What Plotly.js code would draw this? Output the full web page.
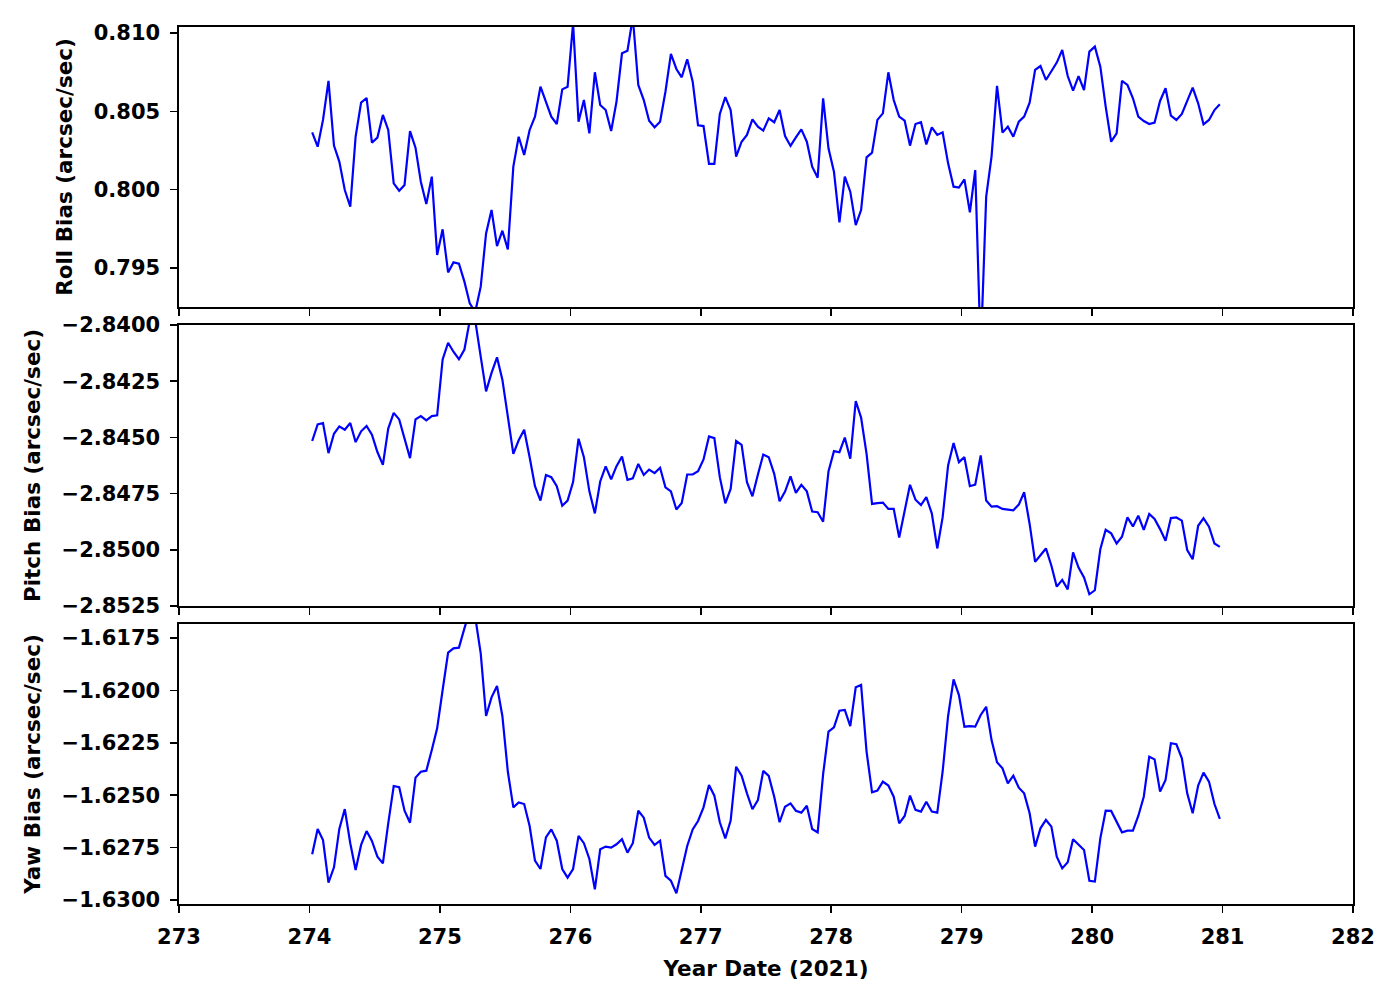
<!DOCTYPE html>
<html>
<head>
<meta charset="utf-8">
<script src="https://cdn.plot.ly/plotly-3.0.1.min.js"></script>
<style>html,body{margin:0;padding:0;background:#fff;}#chart{width:1400px;height:1000px;}</style>
</head>
<body>
<div id="chart"></div>
<script>
// Year date (2021), hourly samples
const yearDate = [
274.021,274.063,274.104,274.146,274.188,274.229,274.271,274.313,274.354,274.396,274.438,274.479,274.521,274.563,274.604,274.646,274.688,274.729,274.771,274.813,274.854,274.896,274.938,274.979,
275.021,275.063,275.104,275.146,275.188,275.229,275.271,275.313,275.354,275.396,275.438,275.479,275.521,275.563,275.604,275.646,275.688,275.729,275.771,275.813,275.854,275.896,275.938,275.979,
276.021,276.063,276.104,276.146,276.188,276.229,276.271,276.313,276.354,276.396,276.438,276.479,276.521,276.563,276.604,276.646,276.688,276.729,276.771,276.813,276.854,276.896,276.938,276.979,
277.021,277.063,277.104,277.146,277.188,277.229,277.271,277.313,277.354,277.396,277.438,277.479,277.521,277.563,277.604,277.646,277.688,277.729,277.771,277.813,277.854,277.896,277.938,277.979,
278.021,278.063,278.104,278.146,278.188,278.229,278.271,278.313,278.354,278.396,278.438,278.479,278.521,278.563,278.604,278.646,278.688,278.729,278.771,278.813,278.854,278.896,278.938,278.979,
279.021,279.063,279.104,279.146,279.188,279.229,279.271,279.313,279.354,279.396,279.438,279.479,279.521,279.563,279.604,279.646,279.688,279.729,279.771,279.813,279.854,279.896,279.938,279.979,
280.021,280.063,280.104,280.146,280.188,280.229,280.271,280.313,280.354,280.396,280.438,280.479,280.521,280.563,280.604,280.646,280.688,280.729,280.771,280.813,280.854,280.896,280.938,280.979
];

const rollBias = [
0.80366,0.80274,0.80445,0.80694,0.80281,0.80179,0.79998,0.79891,0.80338,0.80555,0.80585,0.80300,0.80332,0.80477,0.80381,0.80040,0.79993,0.80030,0.80374,0.80268,0.80051,0.79908,0.80083,0.79583,
0.79747,0.79472,0.79536,0.79527,0.79413,0.79274,0.79220,0.79381,0.79721,0.79870,0.79640,0.79738,0.79619,0.80147,0.80338,0.80221,0.80381,0.80466,0.80657,0.80562,0.80466,0.80419,0.80640,0.80657,
0.81060,0.80434,0.80572,0.80359,0.80749,0.80540,0.80508,0.80374,0.80562,0.80870,0.80887,0.81100,0.80668,0.80572,0.80440,0.80398,0.80434,0.80625,0.80866,0.80770,0.80717,0.80832,0.80689,0.80411,
0.80406,0.80164,0.80164,0.80483,0.80591,0.80508,0.80211,0.80306,0.80349,0.80449,0.80402,0.80377,0.80455,0.80430,0.80508,0.80342,0.80279,0.80334,0.80385,0.80306,0.80147,0.80076,0.80583,0.80264,
0.80115,0.79791,0.80083,0.79987,0.79774,0.79870,0.80206,0.80236,0.80445,0.80487,0.80749,0.80572,0.80466,0.80440,0.80281,0.80419,0.80430,0.80289,0.80398,0.80349,0.80366,0.80168,0.80019,0.80013,
0.80066,0.79855,0.80125,0.78960,0.79955,0.80211,0.80662,0.80364,0.80402,0.80338,0.80434,0.80466,0.80555,0.80764,0.80789,0.80700,0.80753,0.80811,0.80891,0.80725,0.80632,0.80725,0.80636,0.80881,
0.80913,0.80785,0.80530,0.80306,0.80359,0.80694,0.80668,0.80583,0.80466,0.80438,0.80419,0.80428,0.80566,0.80647,0.80472,0.80445,0.80483,0.80568,0.80651,0.80551,0.80417,0.80445,0.80508,0.80545
];

const pitchBias = [
-2.84516,-2.84442,-2.84436,-2.84570,-2.84484,-2.84451,-2.84466,-2.84436,-2.84521,-2.84473,-2.84449,-2.84488,-2.84565,-2.84622,-2.84461,-2.84391,-2.84420,-2.84506,-2.84592,-2.84420,-2.84405,-2.84424,-2.84405,-2.84402,
-2.84153,-2.84079,-2.84119,-2.84152,-2.84109,-2.83980,-2.83980,-2.84141,-2.84295,-2.84213,-2.84144,-2.84243,-2.84409,-2.84573,-2.84513,-2.84466,-2.84588,-2.84717,-2.84781,-2.84667,-2.84677,-2.84717,-2.84804,-2.84781,
-2.84699,-2.84506,-2.84588,-2.84740,-2.84838,-2.84696,-2.84629,-2.84687,-2.84628,-2.84585,-2.84689,-2.84682,-2.84618,-2.84667,-2.84643,-2.84659,-2.84635,-2.84722,-2.84740,-2.84821,-2.84792,-2.84665,-2.84665,-2.84650,
-2.84598,-2.84496,-2.84503,-2.84677,-2.84793,-2.84729,-2.84516,-2.84533,-2.84699,-2.84762,-2.84665,-2.84576,-2.84588,-2.84662,-2.84784,-2.84741,-2.84673,-2.84747,-2.84711,-2.84740,-2.84830,-2.84833,-2.84875,-2.84652,
-2.84561,-2.84566,-2.84501,-2.84595,-2.84338,-2.84412,-2.84573,-2.84796,-2.84792,-2.84790,-2.84818,-2.84818,-2.84945,-2.84829,-2.84711,-2.84777,-2.84801,-2.84766,-2.84838,-2.84994,-2.84856,-2.84625,-2.84525,-2.84610,
-2.84588,-2.84717,-2.84710,-2.84580,-2.84781,-2.84808,-2.84806,-2.84818,-2.84821,-2.84824,-2.84799,-2.84744,-2.84885,-2.85054,-2.85024,-2.84994,-2.85071,-2.85164,-2.85134,-2.85176,-2.85012,-2.85079,-2.85123,-2.85198,
-2.85180,-2.84997,-2.84911,-2.84927,-2.84972,-2.84942,-2.84856,-2.84896,-2.84848,-2.84911,-2.84841,-2.84863,-2.84908,-2.84960,-2.84859,-2.84856,-2.84870,-2.85001,-2.85042,-2.84893,-2.84859,-2.84897,-2.84972,-2.84987
];

const yawBias = [
-1.62782,-1.62661,-1.62714,-1.62917,-1.62844,-1.62661,-1.62566,-1.62729,-1.62857,-1.62737,-1.62671,-1.62718,-1.62793,-1.62825,-1.62634,-1.62456,-1.62462,-1.62574,-1.62631,-1.62416,-1.62388,-1.62383,-1.62284,-1.62181,
-1.61998,-1.61820,-1.61799,-1.61796,-1.61704,-1.61620,-1.61650,-1.61823,-1.62122,-1.62033,-1.61979,-1.62122,-1.62388,-1.62558,-1.62535,-1.62542,-1.62647,-1.62812,-1.62852,-1.62701,-1.62663,-1.62717,-1.62852,-1.62893,
-1.62852,-1.62694,-1.62729,-1.62804,-1.62949,-1.62758,-1.62745,-1.62750,-1.62734,-1.62710,-1.62774,-1.62729,-1.62574,-1.62607,-1.62702,-1.62737,-1.62717,-1.62885,-1.62908,-1.62968,-1.62857,-1.62742,-1.62663,-1.62623,
-1.62558,-1.62451,-1.62502,-1.62629,-1.62706,-1.62621,-1.62364,-1.62407,-1.62491,-1.62567,-1.62523,-1.62384,-1.62408,-1.62507,-1.62629,-1.62555,-1.62539,-1.62574,-1.62583,-1.62550,-1.62661,-1.62677,-1.62399,-1.62197,
-1.62176,-1.62097,-1.62093,-1.62170,-1.61985,-1.61974,-1.62292,-1.62486,-1.62478,-1.62435,-1.62454,-1.62507,-1.62634,-1.62599,-1.62502,-1.62570,-1.62578,-1.62531,-1.62578,-1.62583,-1.62388,-1.62122,-1.61947,-1.62022,
-1.62173,-1.62170,-1.62173,-1.62117,-1.62078,-1.62237,-1.62343,-1.62372,-1.62443,-1.62407,-1.62464,-1.62491,-1.62586,-1.62745,-1.62658,-1.62618,-1.62650,-1.62793,-1.62849,-1.62820,-1.62710,-1.62737,-1.62761,-1.62908,
-1.62912,-1.62706,-1.62574,-1.62575,-1.62626,-1.62677,-1.62669,-1.62669,-1.62599,-1.62507,-1.62316,-1.62329,-1.62483,-1.62427,-1.62252,-1.62257,-1.62324,-1.62491,-1.62586,-1.62454,-1.62392,-1.62435,-1.62542,-1.62613
];

const xTitle = 'Year Date (2021)';
const yTitles = ['Roll Bias (arcsec/sec)', 'Pitch Bias (arcsec/sec)', 'Yaw Bias (arcsec/sec)'];

const tickFont = {family: 'DejaVu Sans', size: 21, weight: 'bold', color: '#000'};
const titleFont = {family: 'DejaVu Sans', size: 21.5, weight: 'bold', color: '#000'};
const lineStyle = {color: '#0000ff', width: 2.2};

const traces = [
  {x: yearDate, y: rollBias, xaxis: 'x', yaxis: 'y', type: 'scatter', mode: 'lines', line: lineStyle},
  {x: yearDate, y: pitchBias, xaxis: 'x2', yaxis: 'y2', type: 'scatter', mode: 'lines', line: lineStyle},
  {x: yearDate, y: yawBias, xaxis: 'x3', yaxis: 'y3', type: 'scatter', mode: 'lines', line: lineStyle}
];

const axBase = {
  showgrid: false, zeroline: false, showline: true, mirror: true,
  linecolor: '#000', linewidth: 1.6,
  ticks: 'outside', ticklen: 7, tickwidth: 1.6, tickcolor: '#000',
  ticklabelstandoff: 6,
  tickfont: tickFont
};

const xBase = Object.assign({}, axBase, {range: [273, 282], dtick: 1, tick0: 273, autorange: false});

const layout = {
  width: 1400, height: 1000,
  margin: {l: 179, r: 47, t: 27, b: 96},
  paper_bgcolor: '#fff', plot_bgcolor: '#fff',
  showlegend: false,
  font: tickFont,
  xaxis: Object.assign({}, xBase, {anchor: 'y', showticklabels: false}),
  xaxis2: Object.assign({}, xBase, {anchor: 'y2', matches: 'x', showticklabels: false}),
  xaxis3: Object.assign({}, xBase, {anchor: 'y3', matches: 'x', title: {text: xTitle, font: titleFont, standoff: 13}}),
  yaxis: Object.assign({}, axBase, {anchor: 'x', domain: [0.6807, 1], range: [0.79251, 0.81038], autorange: false,
    dtick: 0.005, tick0: 0, tickformat: '.3f', title: {text: yTitles[0], font: titleFont, standoff: 15}}),
  yaxis2: Object.assign({}, axBase, {anchor: 'x2', domain: [0.3398, 0.6602], range: [-2.8525, -2.8400], autorange: false,
    dtick: 0.0025, tick0: 0, tickformat: '.4f', title: {text: yTitles[1], font: titleFont, standoff: 15}}),
  yaxis3: Object.assign({}, axBase, {anchor: 'x3', domain: [0, 0.3193], range: [-1.63019, -1.61683], autorange: false,
    dtick: 0.0025, tick0: 0, tickformat: '.4f', title: {text: yTitles[2], font: titleFont, standoff: 15}})
};

Plotly.newPlot('chart', traces, layout, {staticPlot: true, displayModeBar: false});
</script>
</body>
</html>
